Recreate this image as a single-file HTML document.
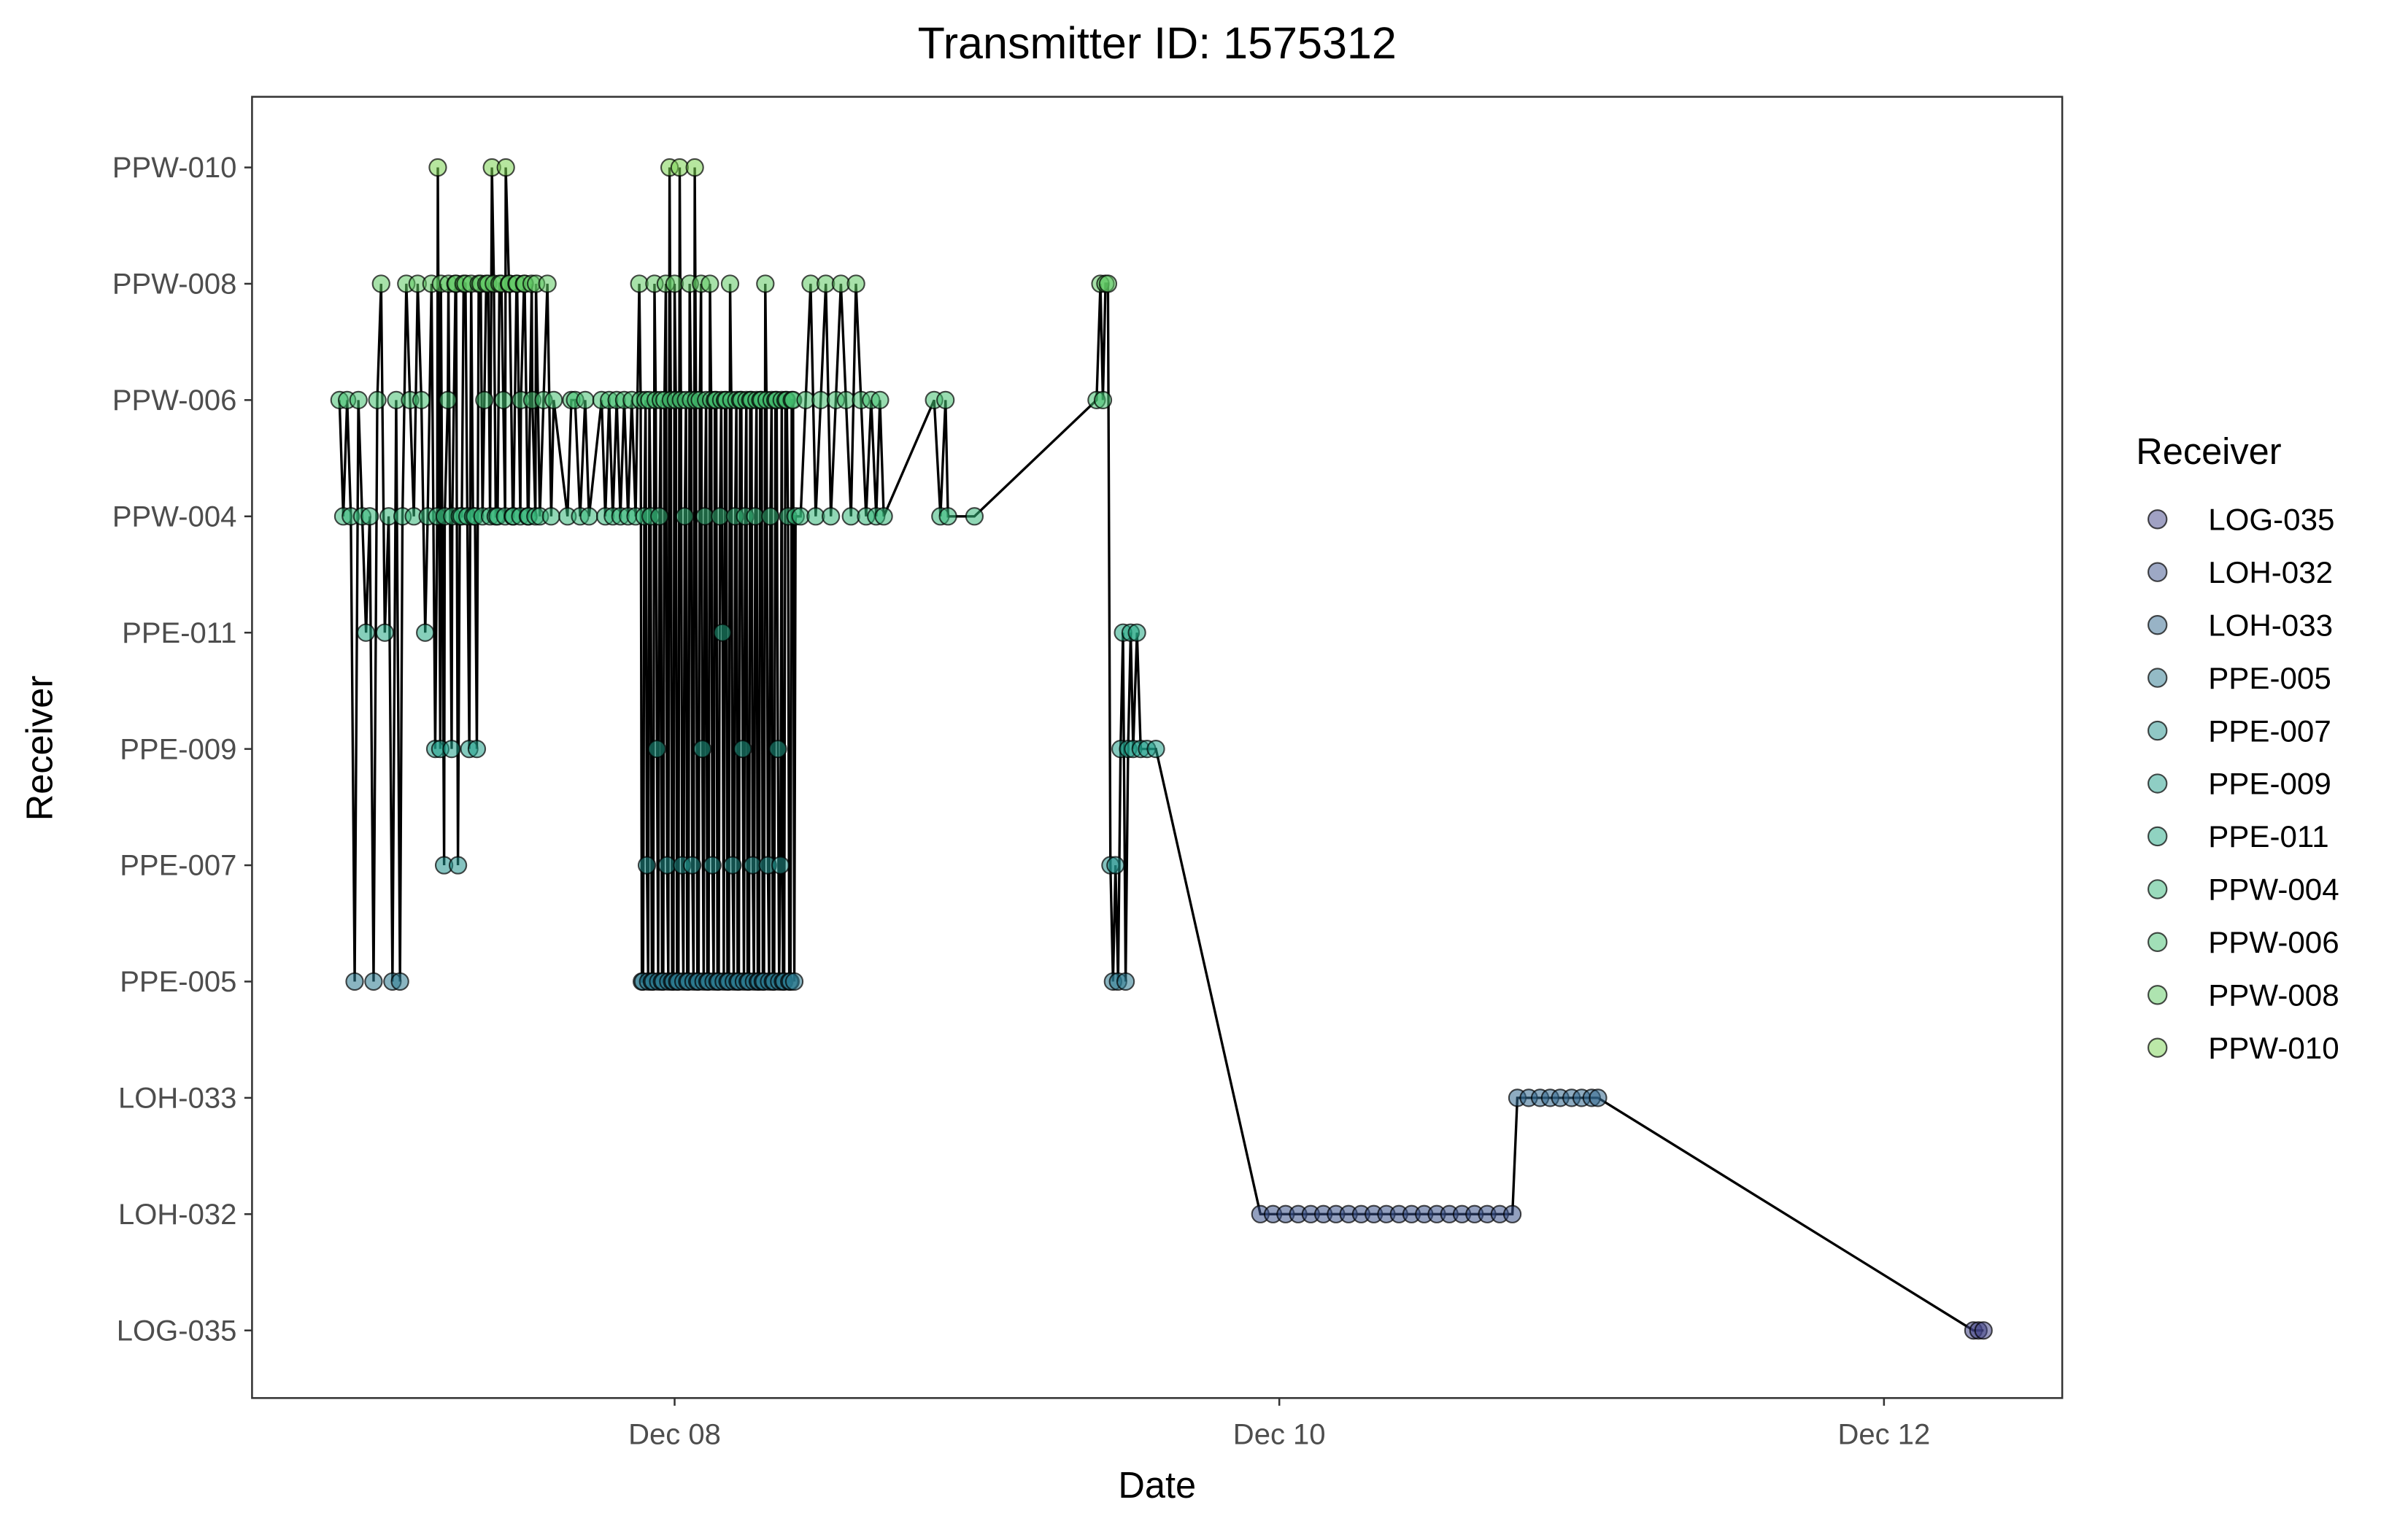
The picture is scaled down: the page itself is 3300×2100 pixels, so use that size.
<!DOCTYPE html>
<html><head><meta charset="utf-8"><style>
html,body{margin:0;padding:0;background:#fff}
svg{display:block;font-family:"Liberation Sans",Arial,sans-serif}
</style></head><body>
<svg id="chart" width="3300" height="2100" viewBox="0 0 1567 997.2" xmlns="http://www.w3.org/2000/svg">
<text x="753" y="38" font-size="29" text-anchor="middle" fill="#000">Transmitter ID: 1575312</text>
<rect x="164" y="63" width="1178" height="847" fill="#fff" stroke="#333" stroke-width="1.2"/>
<g id="yaxis"></g>
<g id="xaxis"></g>
<g id="series"></g>
<text x="753" y="975" font-size="24" text-anchor="middle">Date</text>
<text transform="translate(34,487) rotate(-90)" font-size="24" text-anchor="middle">Receiver</text>
<g id="legend"><text x="1390" y="302" font-size="24">Receiver</text></g>
</svg>
<script>
const receivers=["LOG-035","LOH-032","LOH-033","PPE-005","PPE-007","PPE-009","PPE-011","PPW-004","PPW-006","PPW-008","PPW-010"];
const colors=["#414487","#3b528b","#31688e","#2a788e","#21918c","#1f9e89","#22a884","#35b779","#44bf70","#5ec962","#7ad151"];
const xTickLabels=["Dec 08","Dec 10","Dec 12"];
const xTickHours=[0,48,96];
// hours relative to Dec 08 00:00, receiver index into receivers[]
const segATimes=[-26.6,-26.3,-26,-25.7,-25.4,-25.1,-24.8,-24.5,-24.2,-23.9,
-23.6,-23.3,-23,-22.7,-22.4,-22.1,-21.8,-21.6,-21.3,-21,
-20.7,-20.4,-20.1,-19.8,-19.6,-19.3,-19,-18.8,-18.6,-18.3,
-18,-17.7,-17.4,-17.2,-16.9,-16.6,-16.3,-16,-15.7,-15.4,
-15.1,-14.8,-14.5,-14.2,-13.9,-13.6,-13.4,-13.1,-12.8,-12.5,
-12.2,-11.9,-11.6,-11.3,-11,-10.7,-10.4,-10.1,-9.8,-9.6];
const segARecs=[8,7,8,7,3,8,7,6,7,3,
8,9,6,7,3,8,3,7,9,8,
7,9,8,6,7,9,5,10,5,4,
8,5,9,4,7,9,5,7,5,9,
8,9,10,7,9,8,10,9,7,9,
8,9,7,8,9,7,8,9,7,8];
const segA2Times=[-18.85,-18.55,-18.25,-17.95,-17.65,-17.35,-17.05,-16.75,-16.45,-16.15,
-15.85,-15.55,-15.25,-14.95,-14.65,-14.35,-14.05,-13.75,-13.45,-13.15,
-12.85,-12.55,-12.25,-11.95,-11.65,-11.35,-11.05];
const segA2Recs=[7,9,7,9,7,9,7,9,7,9,
7,9,7,9,7,9,7,9,7,9,
7,9,7,9,7,9,7];
const segBTimes=[-8.5,-8.2,-7.9,-7.5,-7.1,-6.8];
const segBRecs=[7,8,8,7,8,7];
const segCTimes=[-5.8,-5.5,-5.2,-4.9,-4.6,-4.3,-4,-3.7,-3.4,-3.1,
-2.8,-2.6,-2.4,-2.2,-2,-1.8,-1.6,-1.4,-1.2,-1,
-0.8,-0.6,-0.4,-0.2,0,0.2,0.4,0.6,0.8,1,
1.2,1.4,1.6,1.8,2,2.2,2.4,2.6,2.8,3,
3.2,3.4,3.6,3.8,4,4.2,4.4,4.6,4.8,5,
5.2,5.4,5.6,5.8,6,6.2,6.4,6.6,6.8,7,
7.2,7.4,7.6,7.8,8,8.2,8.4,8.6,8.8,9,
9.2,9.4,9.6];
const segCRecs=[8,7,8,7,8,7,8,7,8,7,
9,3,7,4,8,3,9,5,7,3,
8,4,10,3,9,3,10,4,7,3,
9,4,10,3,8,5,7,3,9,4,
8,3,7,6,8,3,9,4,7,3,
8,5,7,3,8,4,7,3,8,3,
9,4,7,3,8,5,4,3,8,7,
3,8,7];
const segC2Times=[-2.7,-2.5,-2.3,-2.1,-1.9,-1.7,-1.5,-1.3,-1.1,-0.9,
-0.7,-0.5,-0.3,-0.1,0.1,0.3,0.5,0.7,0.9,1.1,
1.3,1.5,1.7,1.9,2.1,2.3,2.5,2.7,2.9,3.1,
3.3,3.5,3.7,3.9,4.1,4.3,4.5,4.7,4.9,5.1,
5.3,5.5,5.7,5.9,6.1,6.3,6.5,6.7,6.9,7.1,
7.3,7.5,7.7,7.9,8.1,8.3,8.5,8.7,8.9,9.1,
9.3,9.5];
const segC2Recs=[8,3,8,3,7,3,8,3,8,3,
9,3,8,3,8,3,8,3,8,3,
8,3,8,3,9,3,8,3,8,3,
8,3,8,3,8,3,8,3,8,3,
8,3,8,3,8,3,8,3,8,3,
8,3,8,3,8,3,8,3,8,3,
8,3];
const segDTimes=[10,10.4,10.8,11.2,11.6,12,12.4,12.8,13.2,13.6,14,14.4,14.8,15.2,15.6,16,16.3,16.6];
const segDRecs=[7,8,9,7,8,9,7,8,9,8,7,9,8,7,8,7,8,7];
const segETimes=[20.6,21.1,21.5,21.7,23.8];
const segERecs=[8,7,8,7,7];
const segFTimes=[33.5,33.8,34,34.2,34.4,34.6,34.8,35,35.2,35.4,35.6,35.8,36,36.2,36.4,36.7,37,37.5,38.2];
const segFRecs=[8,9,8,9,9,4,3,4,3,5,6,3,5,6,5,6,5,5,5];
const segGTimes=[46.5,47.5,48.5,49.5,50.5,51.5,52.5,53.5,54.5,55.5,56.5,57.5,58.5,59.5,60.5,61.5,62.5,63.5,64.5,65.5,66.5];
const segGRecs=[1,1,1,1,1,1,1,1,1,1,1,1,1,1,1,1,1,1,1,1,1];
const segHTimes=[66.9,67.8,68.7,69.5,70.3,71.2,72,72.8,73.3];
const segHRecs=[2,2,2,2,2,2,2,2,2];
const segITimes=[103.1,103.5,103.9];
const segIRecs=[0,0,0];
const times=[].concat(segATimes,segA2Times,segBTimes,segCTimes,segC2Times,segDTimes,segETimes,segFTimes,segGTimes,segHTimes,segITimes);
const recIdx=[].concat(segARecs,segA2Recs,segBRecs,segCRecs,segC2Recs,segDRecs,segERecs,segFRecs,segGRecs,segHRecs,segIRecs);
const NS="http://www.w3.org/2000/svg";
const x0=439, pxPerHour=393.5/48;
function xs(h){return x0+h*pxPerHour;}
function ys(i){return 866-i*(757/10);}
function mk(tag,attrs,parent){const e=document.createElementNS(NS,tag);for(const k in attrs)e.setAttribute(k,attrs[k]);parent.appendChild(e);return e;}
const ya=document.getElementById('yaxis');
receivers.forEach((r,i)=>{
  const t=mk('text',{x:154,y:ys(i)+6.5,'font-size':19,'text-anchor':'end',fill:'#4d4d4d'},ya);
  t.textContent=r;
  
  
  const l=mk('line',{x1:159,x2:164,y1:ys(i),y2:ys(i),stroke:'#333','stroke-width':1.2},ya);
  
  
});
const xa=document.getElementById('xaxis');
xTickLabels.forEach((lab,i)=>{
  const x=xs(xTickHours[i]);
  const l=mk('line',{x1:x,x2:x,y1:910,y2:915,stroke:'#333','stroke-width':1.2},xa);
  
  
  const t=mk('text',{x:x,y:940,'font-size':19,'text-anchor':'middle',fill:'#4d4d4d'},xa);
  t.textContent=lab;
  
  
});
const s=document.getElementById('series');
const n=Math.min(times.length,recIdx.length);
const order=[];
for(let i=0;i<n;i++)order.push(i);
order.sort((a,b)=>times[a]-times[b]);
const pts=order.map(i=>xs(times[i]).toFixed(1)+","+ys(recIdx[i]).toFixed(1));
const pl=mk('polyline',{points:pts.join(" "),fill:'none',stroke:'#000','stroke-width':1.6},s);


order.forEach(i=>{
  const c=mk('circle',{cx:xs(times[i]),cy:ys(recIdx[i]),r:5.5,fill:colors[recIdx[i]],'fill-opacity':0.55,stroke:'#000','stroke-opacity':0.7,'stroke-width':1},s);
  
  
});
const lg=document.getElementById('legend');
receivers.forEach((r,i)=>{
  const y=338+i*34.4;
  const c=mk('circle',{cx:1404,cy:y,r:6,fill:colors[i],'fill-opacity':0.5,stroke:'#000','stroke-opacity':0.7,'stroke-width':1},lg);
  
  
  const t=mk('text',{x:1437,y:y+7,'font-size':20,fill:'#000'},lg);
  t.textContent=r;
  
  
});
</script>
</body></html>
